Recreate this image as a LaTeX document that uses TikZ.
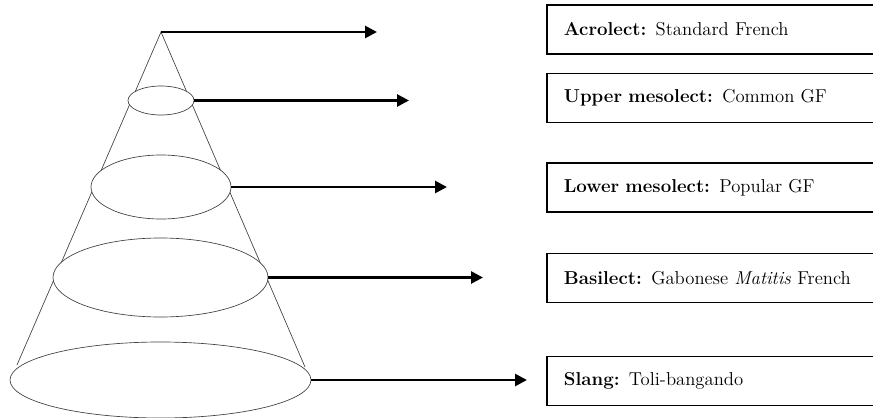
\documentclass[tikz,border=0pt]{standalone}
\usetikzlibrary{arrows.meta,shapes.geometric}

\tikzset{
  ring/.style={ellipse,draw=black!75,line width=0.5pt,fill=white,inner sep=0pt,outer sep=0pt},
  pointer/.style={line width=2pt,-{Triangle[length=9pt,width=9pt]}},
  lectbox/.style={draw,line width=1.3pt,anchor=west,minimum height=36.75pt,text width=240pt,
    inner xsep=12.75pt,align=left,font=\fontsize{14}{17}\selectfont}
}

\begin{document}
\begin{tikzpicture}[x=0.75pt,y=-0.75pt]
            \clip (0,0) rectangle (873,417);

            % cone
            \coordinate (apex) at (161,32);
            \draw[black!75,line width=0.5pt] (17,365) -- (apex) -- (305,367);

            \node[ring,minimum width=49.5pt,minimum height=21.75pt] (ring1) at (161,100.5) {};
            \node[ring,minimum width=105pt,minimum height=48pt] (ring2) at (161,187) {};
            \node[ring,minimum width=161.25pt,minimum height=59.25pt] (ring3) at (160.5,277.5) {};
            \node[ring,minimum width=225.75pt,minimum height=57pt] (ring4) at (160.5,380) {};

            % arrows
            \coordinate (end1) at (377,32);
            \coordinate (end2) at (409,100.5);
            \coordinate (end3) at (447,187);
            \coordinate (end4) at (483,277.5);
            \coordinate (end5) at (527,380);
            \draw[pointer] (apex)--(end1);
            \draw[pointer] (ring1.east)--(end2);
            \draw[pointer] (ring2.east)--(end3);
            \draw[pointer] (ring3.east)--(end4);
            \draw[pointer] (ring4.east)--(end5);

            % labels
            \node[lectbox] (acrolect) at (546,29.5){\textbf{Acrolect:} Standard French};
            \node[lectbox] (uppermeso) at (546,98){\textbf{Upper mesolect:} Common GF};
            \node[lectbox] (lowermeso) at (546,187.5){\textbf{Lower mesolect:} Popular GF};
            \node[lectbox] (basilect) at (546,278){\textbf{Basilect:} Gabonese \textit{Matitis} French};
            \node[lectbox] (slang) at (546,381){\textbf{Slang:} Toli-bangando};
            \end{tikzpicture}
\end{document}
